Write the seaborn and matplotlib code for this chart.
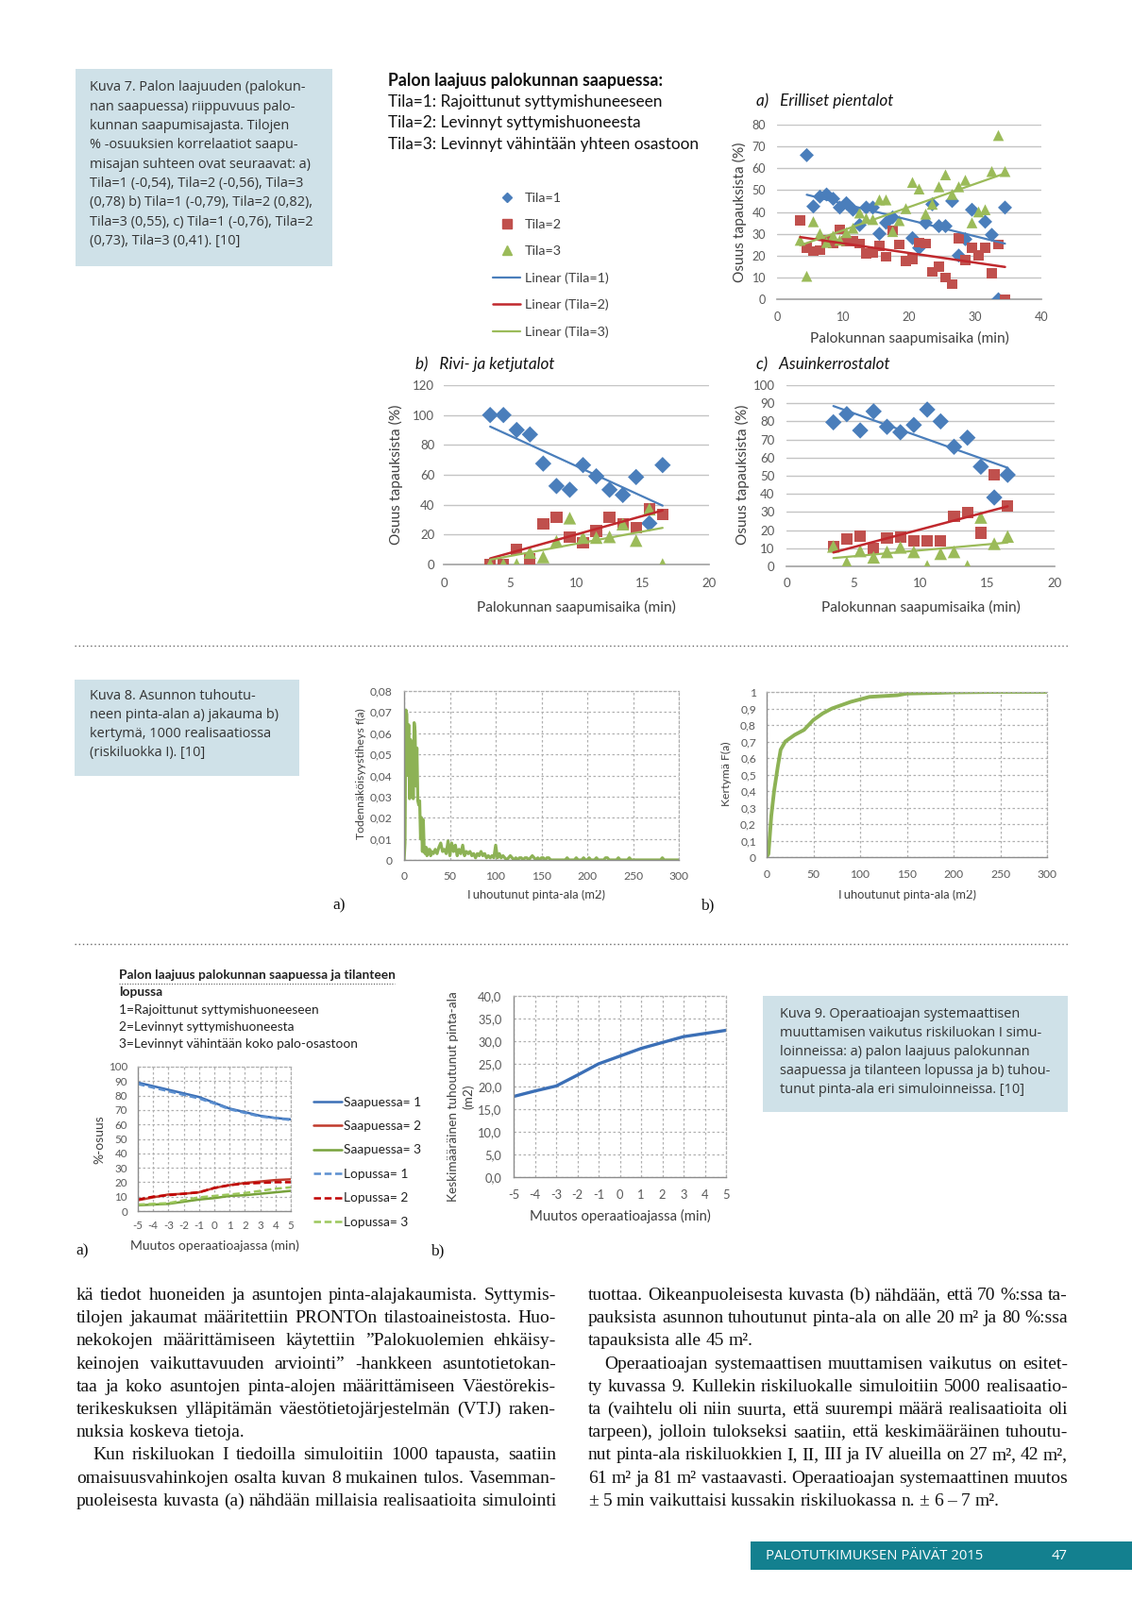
import numpy as np
import pandas as pd
import matplotlib
matplotlib.use("Agg")
import matplotlib.pyplot as plt
import seaborn as sns
from matplotlib.lines import Line2D
from matplotlib.patches import Rectangle
from matplotlib.ticker import FuncFormatter, MultipleLocator

# ---------------- DATA ----------------
# Kuva 7 a) Erilliset pientalot
time_a = [3.5, 4.5, 5.5, 6.5, 7.5, 8.5, 9.5, 10.5, 11.5, 12.5, 13.5, 14.5, 15.5, 16.5, 17.5, 18.5,
          19.5, 20.5, 21.5, 22.5, 23.5, 24.5, 25.5, 26.5, 27.5, 28.5, 29.5, 30.5, 31.5, 32.5, 33.5, 34.5]
tila1_a = [np.nan, 66, 42.5, 47, 48, 46, 42, 44, 41, 34, 42, 42, 30, 35, 37.5, np.nan,
           np.nan, 28, 23.5, 35, 43.5, 33.5, 33.5, 45, 20, 27.5, 41, np.nan, 35.5, 29.5, 0, 42]
tila2_a = [36, 23.5, 22, 22.5, 27, 25.5, 32, 26.5, 26.5, 25.5, 21, 21.5, 24.5, 19.5, 31.5, 25,
           17.5, 18.5, 26, 25.5, 12.5, 15, 10, 7, 28, 18, 23.5, 20, 23.5, 12, 25, 0]
tila3_a = [27, 10.5, 35.5, 30, 26, 29, 27, 30.5, 32.5, 39.5, 37, 36.5, 45.5, 45.5, 31, 36,
           41.5, 53.5, 50.5, 39, 43.5, 51.5, 57, 48, 51.5, 54.5, 35, 40, 41, 58.5, 75, 58.5]

# Kuva 7 b) Rivi- ja ketjutalot, c) Asuinkerrostalot
time_bc = [3.5, 4.5, 5.5, 6.5, 7.5, 8.5, 9.5, 10.5, 11.5, 12.5, 13.5, 14.5, 15.5, 16.5]
tila1_b = [100, 100, 90, 87, 67.5, 52.5, 50, 66.5, 59, 50, 46.5, 58.5, 27.5, 66.5]
tila2_b = [0, 0, 10, 4, 27, 31.5, 18.5, 14.5, 22.5, 31.5, 27, 24.5, 37, 33.5]
tila3_b = [0, 0, 0, 8, 5, 15.5, 31, 18, 18, 18.5, 27, 16, 37, 0]
tila1_c = [79.5, 84, 75, 85.5, 77, 74, 78, 86.5, 80, 66, 71, 55, 38, 50.5]
tila2_c = [11, 15, 16.5, 10, 15.5, 16, 14, 14, 14, 27.5, 29.5, 18.5, 50.5, 33.5]
tila3_c = [11, 2, 8.5, 5, 8, 10.5, 8, 0, 7, 8, 0, 27, 12.5, 16.5]

# Kuva 8 a) density
dens_x = list(range(0, 31)) + list(range(32, 301, 2))
dens_y = [0, 0.008, 0.071, 0.069, 0.040, 0.064, 0.029, 0.057, 0.030, 0.056, 0.029,
          0.065, 0.061, 0.035, 0.053, 0.028, 0.026, 0.028, 0.010, 0.020, 0.004,
          0.019, 0.004, 0.003, 0.006, 0.002, 0.005, 0.003, 0.005, 0.002, 0.004,
          # 32..100 step 2
          0.003, 0.005, 0.003, 0.006, 0.008, 0.004, 0.005, 0.003, 0.009, 0.002,
          0.008, 0.004, 0.007, 0.002, 0.005, 0.003, 0.007, 0.002, 0.004, 0.003,
          0.004, 0.002, 0.003, 0.001, 0.003, 0.002, 0.004, 0.002, 0.003, 0.001,
          0.002, 0.001, 0.002, 0.001, 0.007,
          # 102..300 step 2
          0.001, 0.003, 0.001, 0.002, 0.001, 0.000, 0.001, 0.002, 0.001, 0.000,
          0.001, 0.000, 0.001, 0.001, 0.000, 0.001, 0.001, 0.000, 0.001, 0.002,
          0.001, 0.000, 0.001, 0.000, 0.001, 0.001, 0.000, 0.001, 0.001, 0.000,
          0.000, 0.000, 0.000, 0.000, 0.000, 0.000, 0.000, 0.000, 0.001, 0.000,
          0.000, 0.000, 0.000, 0.001, 0.000, 0.000, 0.000, 0.001, 0.000, 0.000,
          0.001, 0.000, 0.000, 0.000, 0.001, 0.000, 0.000, 0.000, 0.000, 0.001,
          0.001, 0.000, 0.000, 0.000, 0.000, 0.000, 0.001, 0.000, 0.000, 0.000,
          0.000, 0.000, 0.001, 0.000, 0.000, 0.000, 0.000, 0.000, 0.000, 0.000,
          0.000, 0.000, 0.000, 0.000, 0.000, 0.000, 0.000, 0.000, 0.000, 0.000,
          0.001, 0.000, 0.000, 0.000, 0.000, 0.000, 0.000, 0.000, 0.000, 0.000]

# Kuva 8 b) cumulative
cum_x = [0, 2, 5, 8, 12, 15, 20, 25, 30, 40, 50, 60, 70, 80, 90, 100, 110, 125, 140, 150, 175, 200, 250, 300]
cum_y = [0, 0.02, 0.25, 0.40, 0.55, 0.65, 0.70, 0.72, 0.74, 0.77, 0.83, 0.87, 0.90, 0.92, 0.94,
         0.955, 0.97, 0.975, 0.98, 0.99, 0.993, 0.997, 1.0, 1.0]

# Kuva 9
muutos = [-5, -4, -3, -2, -1, 0, 1, 2, 3, 4, 5]
saap1 = [89, 86.5, 84, 81.5, 79, 75, 71, 68.5, 66, 64.5, 63.5]
saap2 = [7.5, 9.5, 11.5, 12, 13, 16, 18, 19.5, 20.5, 21.5, 22]
saap3 = [4, 4.5, 5, 6.5, 8, 9, 10.5, 11, 12, 13, 14]
lop1 = [88, 85.5, 83, 80.5, 78, 74.5, 70.5, 68, 65.5, 64.5, 63]
lop2 = [8, 10, 11, 12, 13, 16, 18, 19, 19.5, 20, 20]
lop3 = [4.5, 5, 5.5, 7.5, 9.5, 10.5, 11.5, 12.5, 14, 15.5, 16.5]
ala_keski = [17.8, 19.0, 20.1, 22.5, 25.0, 26.7, 28.4, 29.7, 31.0, 31.7, 32.4]

# ---------------- SETUP ----------------
sns.set_theme(style="white")
plt.rcParams['font.family'] = ['Lato', 'DejaVu Sans']
plt.rcParams['axes.unicode_minus'] = False

W, H = 1199, 1695
fig = plt.figure(figsize=(W / 100, H / 100), dpi=100)
fig.patch.set_facecolor('white')

BLUE, RED, GREEN = '#4a7ebb', '#c0504d', '#9bbb59'
RED_T = '#c0282d'
TXT = '#404040'
TICK = '#595959'
SANS = ['Lato', 'DejaVu Sans']
BOX_FONT = ['Open Sans', 'DejaVu Sans']
SERIF = ['Liberation Serif', 'DejaVu Serif']
BOX_FS = 10.45


def add_ax(x0, y0, x1, y1):
    return fig.add_axes([x0 / W, 1 - y1 / H, (x1 - x0) / W, (y1 - y0) / H])


def ftext(x, y, s, **kw):
    return fig.text(x / W, 1 - y / H, s, **kw)


def label_at(ax, box, xl, yl, xpos, ypos, fs, **kw):
    x0, y0, x1, y1 = box
    if xl is not None:
        ax.set_xlabel(xl, fontsize=fs, color=TXT, va='center', **kw)
        ax.xaxis.set_label_coords((xpos[0] - x0) / (x1 - x0), (y1 - xpos[1]) / (y1 - y0))
    if yl is not None:
        ax.set_ylabel(yl, fontsize=fs, color=TXT, va='center', ha='center', **kw)
        ax.yaxis.set_label_coords((ypos[0] - x0) / (x1 - x0), (y1 - ypos[1]) / (y1 - y0))


def comma(dec):
    def f(v, p):
        if abs(v) < 1e-9:
            return "0" if dec is None else f"{0:.{dec}f}".replace('.', ',')
        if dec is None:
            s = f"{v:.2f}".rstrip('0').rstrip('.')
            return s.replace('.', ',')
        return f"{v:.{dec}f}".replace('.', ',')
    return FuncFormatter(f)


def scatter_chart(box, x, s1, s2, s3, xlim, ylim, ystep, xstep, msz, xpad, ypad, tfs):
    ax = add_ax(*box)
    sns.scatterplot(x=x, y=s1, marker='D', color=BLUE, s=msz, edgecolor='none', ax=ax, zorder=3)
    sns.scatterplot(x=x, y=s2, marker='s', color=RED, s=msz, edgecolor='none', ax=ax, zorder=3)
    sns.scatterplot(x=x, y=s3, marker='^', color=GREEN, s=msz * 1.2, edgecolor='none', ax=ax, zorder=3)
    sns.regplot(x=x, y=s1, scatter=False, ci=None, ax=ax, line_kws=dict(color=BLUE, lw=1.6, zorder=4))
    sns.regplot(x=x, y=s2, scatter=False, ci=None, ax=ax, line_kws=dict(color=RED_T, lw=1.8, zorder=4))
    sns.regplot(x=x, y=s3, scatter=False, ci=None, ax=ax, line_kws=dict(color=GREEN, lw=1.6, zorder=4))
    ax.set_xlim(*xlim)
    ax.set_ylim(*ylim)
    ax.xaxis.set_major_locator(MultipleLocator(xstep))
    ax.yaxis.set_major_locator(MultipleLocator(ystep))
    ax.yaxis.grid(True, color='#c4c4c4', lw=1)
    ax.set_axisbelow(True)
    for s in ['top', 'right', 'left']:
        ax.spines[s].set_visible(False)
    ax.spines['bottom'].set_color('#a6a6a6')
    ax.tick_params(axis='x', length=0, labelsize=tfs, labelcolor=TICK, pad=xpad)
    ax.tick_params(axis='y', length=0, labelsize=tfs, labelcolor=TICK, pad=ypad)
    ax.set_facecolor('white')
    ax.set_xlabel('')
    ax.set_ylabel('')
    return ax


def dotted_grid(ax):
    ax.grid(True, color='#b0b0b0', lw=0.9, ls=(0, (2, 2)))
    ax.set_axisbelow(True)
    for s in ['top', 'right']:
        ax.spines[s].set_visible(True)
        ax.spines[s].set_color('#b0b0b0')
        ax.spines[s].set_linestyle((0, (2, 2)))
        ax.spines[s].set_linewidth(0.9)
    for s in ['left', 'bottom']:
        ax.spines[s].set_visible(True)
        ax.spines[s].set_color('#8c8c8c')
        ax.spines[s].set_linewidth(1.0)


# ---------------- KUVA 7 ----------------
fig.patches.append(Rectangle((80 / W, 1 - 282 / H), (352 - 80) / W, (282 - 73) / H,
                             transform=fig.transFigure, facecolor='#cfe1e8', edgecolor='none', zorder=0))
box7 = ["Kuva 7. Palon laajuuden (palokun-",
        "nan saapuessa) riippuvuus palo-",
        "kunnan saapumisajasta. Tilojen",
        "% -osuuksien korrelaatiot saapu-",
        "misajan suhteen ovat seuraavat: a)",
        "Tila=1 (-0,54), Tila=2 (-0,56), Tila=3",
        "(0,78) b) Tila=1 (-0,79), Tila=2 (0,82),",
        "Tila=3 (0,55), c) Tila=1 (-0,76), Tila=2",
        "(0,73), Tila=3 (0,41). [10]"]
for i, line in enumerate(box7):
    ftext(95, 93 + i * 20.3, line, fontsize=BOX_FS, family=BOX_FONT, color='#333333', va='center')

ftext(411, 85, "Palon laajuus palokunnan saapuessa:", fontsize=12.8, family=SANS,
      weight='bold', color='#111111', va='center')
for i, line in enumerate(["Tila=1: Rajoittunut syttymishuneeseen",
                          "Tila=2: Levinnyt syttymishuoneesta",
                          "Tila=3: Levinnyt vähintään yhteen osastoon"]):
    ftext(411, 107.7 + i * 22.6, line, fontsize=12.4, family=SANS, color='#111111', va='center')

handles = [Line2D([], [], marker='D', color=BLUE, ls='none', markersize=5.5),
           Line2D([], [], marker='s', color=RED, ls='none', markersize=6.5),
           Line2D([], [], marker='^', color=GREEN, ls='none', markersize=7),
           Line2D([], [], color=BLUE, lw=1.6),
           Line2D([], [], color=RED_T, lw=1.8),
           Line2D([], [], color=GREEN, lw=1.6)]
labels = ["Tila=1", "Tila=2", "Tila=3", "Linear (Tila=1)", "Linear (Tila=2)", "Linear (Tila=3)"]
leg = fig.legend(handles, labels, loc='upper left', bbox_to_anchor=(522 / W, 1 - 204 / H),
                 frameon=False, fontsize=10.3, handlelength=2.05, handletextpad=0.3,
                 labelspacing=1.12, borderpad=0, borderaxespad=0)
for t in leg.get_texts():
    t.set_color(TXT)

box_a = (823, 132, 1103, 317)
ax_a = scatter_chart(box_a, time_a, tila1_a, tila2_a, tila3_a, (0, 40), (0, 80), 10, 10, 58, 9, 8.5, 9)
label_at(ax_a, box_a, "Palokunnan saapumisaika (min)", "Osuus tapauksista (%)",
         (963, 358), (783, 225), 11.2)
ftext(801, 107, "a)   Erilliset pientalot", fontsize=12.3, style='italic', family=SANS,
      color='#111111', va='center')

box_b = (470, 408, 751, 598)
ax_b = scatter_chart(box_b, time_bc, tila1_b, tila2_b, tila3_b, (0, 20), (0, 120), 20, 5, 78, 10, 7, 9.5)
label_at(ax_b, box_b, "Palokunnan saapumisaika (min)", "Osuus tapauksista (%)",
         (610, 643), (419, 503), 11.2)
ftext(440, 386, "b)   Rivi- ja ketjutalot", fontsize=12.3, style='italic', family=SANS,
      color='#111111', va='center')

box_c = (833, 408, 1117, 600)
ax_c = scatter_chart(box_c, time_bc, tila1_c, tila2_c, tila3_c, (0, 20), (0, 100), 10, 5, 78, 8.5, 9, 9.5)
label_at(ax_c, box_c, "Palokunnan saapumisaika (min)", "Osuus tapauksista (%)",
         (975, 643), (786, 503), 11.2)
ftext(801, 386, "c)   Asuinkerrostalot", fontsize=12.3, style='italic', family=SANS,
      color='#111111', va='center')

for ysep in (684, 1000):
    fig.lines.append(Line2D([79 / W, 1131 / W], [1 - ysep / H, 1 - ysep / H], transform=fig.transFigure,
                            color='#666666', lw=1.0, ls=(0, (1, 2))))

# ---------------- KUVA 8 ----------------
fig.patches.append(Rectangle((79 / W, 1 - 822 / H), (317 - 79) / W, (822 - 720) / H,
                             transform=fig.transFigure, facecolor='#cfe1e8', edgecolor='none', zorder=0))
box8 = ["Kuva 8. Asunnon tuhoutu-",
        "neen pinta-alan a) jakauma b)",
        "kertymä, 1000 realisaatiossa",
        "(riskiluokka I). [10]"]
for i, line in enumerate(box8):
    ftext(95, 738 + i * 19.8, line, fontsize=BOX_FS, family=BOX_FONT, color='#333333', va='center')

GREEN8 = '#8db255'
box_8a = (428, 732, 719, 911)
ax8a = add_ax(*box_8a)
sns.lineplot(x=dens_x, y=dens_y, color=GREEN8, lw=2.3, ax=ax8a)
ax8a.set_xlim(0, 300)
ax8a.set_ylim(0, 0.08)
ax8a.xaxis.set_major_locator(MultipleLocator(50))
ax8a.yaxis.set_major_locator(MultipleLocator(0.01))
ax8a.yaxis.set_major_formatter(comma(None))
dotted_grid(ax8a)
ax8a.tick_params(axis='x', length=0, labelsize=8.7, labelcolor=TICK, pad=9)
ax8a.tick_params(axis='y', length=0, labelsize=8.7, labelcolor=TICK, pad=9)
label_at(ax8a, box_8a, "Tuhoutunut pinta-ala (m2)", "Todennäköisyystiheys f(a)",
         (567, 947.5), (382, 820), 8.8)
ax8a.xaxis.label.set_fontsize(9.3)

box_8b = (812, 733, 1109, 908)
ax8b = add_ax(*box_8b)
sns.lineplot(x=cum_x, y=cum_y, color=GREEN8, lw=2.8, ax=ax8b)
ax8b.set_xlim(0, 300)
ax8b.set_ylim(0, 1)
ax8b.xaxis.set_major_locator(MultipleLocator(50))
ax8b.yaxis.set_major_locator(MultipleLocator(0.1))
ax8b.yaxis.set_major_formatter(comma(None))
dotted_grid(ax8b)
ax8b.tick_params(axis='x', length=0, labelsize=8.7, labelcolor=TICK, pad=9)
ax8b.tick_params(axis='y', length=0, labelsize=8.7, labelcolor=TICK, pad=8)
label_at(ax8b, box_8b, "Tuhoutunut pinta-ala (m2)", "Kertymä F(a)",
         (960, 947.5), (769, 820), 8.8)
ax8b.xaxis.label.set_fontsize(9.3)

# the scanned page cuts off the top of these two axis titles
for (xa, xb) in ((470, 665), (860, 1060)):
    fig.patches.append(Rectangle((xa / W, 1 - 943.3 / H), (xb - xa) / W, 8 / H,
                                 transform=fig.transFigure, facecolor='white', edgecolor='none', zorder=5))

ftext(352, 959, "a)", fontsize=12.5, family=SERIF, color='#111111', va='center')
ftext(742, 959, "b)", fontsize=12.5, family=SERIF, color='#111111', va='center')

# ---------------- KUVA 9 ----------------
fig.patches.append(Rectangle((808 / W, 1 - 1178 / H), (1131 - 808) / W, (1178 - 1055) / H,
                             transform=fig.transFigure, facecolor='#cfe1e8', edgecolor='none', zorder=0))
box9 = ["Kuva 9. Operaatioajan systemaattisen",
        "muuttamisen vaikutus riskiluokan I simu-",
        "loinneissa: a) palon laajuus palokunnan",
        "saapuessa ja tilanteen lopussa ja b) tuhou-",
        "tunut pinta-ala eri simuloinneissa. [10]"]
for i, line in enumerate(box9):
    ftext(826, 1074 + i * 20.2, line, fontsize=BOX_FS, family=BOX_FONT, color='#333333', va='center')

ftext(126, 1033, "Palon laajuus palokunnan saapuessa ja tilanteen", fontsize=9.9, family=SANS,
      weight='bold', color='#222222', va='center')
fig.lines.append(Line2D([126 / W, 418 / W], [1 - 1042 / H, 1 - 1042 / H], transform=fig.transFigure,
                        color='#555555', lw=0.8, ls=(0, (1, 1.5))))
ftext(126, 1051, "lopussa", fontsize=9.9, family=SANS, weight='bold', color='#222222', va='center')
for i, line in enumerate(["1=Rajoittunut syttymishuoneeseen",
                          "2=Levinnyt syttymishuoneesta",
                          "3=Levinnyt vähintään koko palo-osastoon"]):
    ftext(126, 1069.5 + i * 18, line, fontsize=9.9, family=SANS, color='#222222', va='center')

B9, R9, G9 = '#3b6fb6', '#c0392b', '#77a23b'
B9d, R9d, G9d = '#5b8fd0', '#c00000', '#9cc75c'
box_9a = (146, 1130, 308, 1283)
ax9a = add_ax(*box_9a)
sns.lineplot(x=muutos, y=saap1, color=B9, lw=1.8, ax=ax9a)
sns.lineplot(x=muutos, y=saap2, color=R9, lw=1.8, ax=ax9a)
sns.lineplot(x=muutos, y=saap3, color=G9, lw=1.8, ax=ax9a)
sns.lineplot(x=muutos, y=lop1, color=B9d, lw=1.8, ls=(0, (3, 1.5)), ax=ax9a)
sns.lineplot(x=muutos, y=lop2, color=R9d, lw=1.8, ls=(0, (3, 1.5)), ax=ax9a)
sns.lineplot(x=muutos, y=lop3, color=G9d, lw=1.8, ls=(0, (3, 1.5)), ax=ax9a)
ax9a.set_xlim(-5, 5)
ax9a.set_ylim(0, 100)
ax9a.xaxis.set_major_locator(MultipleLocator(1))
ax9a.yaxis.set_major_locator(MultipleLocator(10))
dotted_grid(ax9a)
ax9a.tick_params(axis='x', length=0, labelsize=8.3, labelcolor=TICK, pad=7)
ax9a.tick_params(axis='y', length=0, labelsize=8.3, labelcolor=TICK, pad=8)
label_at(ax9a, box_9a, "Muutos operaatioajassa (min)", "%-osuus", (227, 1320), (105, 1207), 10)

h9 = [Line2D([], [], color=B9, lw=1.8), Line2D([], [], color=R9, lw=1.8), Line2D([], [], color=G9, lw=1.8),
      Line2D([], [], color=B9d, lw=1.8, ls=(0, (3, 1.5))), Line2D([], [], color=R9d, lw=1.8, ls=(0, (3, 1.5))),
      Line2D([], [], color=G9d, lw=1.8, ls=(0, (3, 1.5)))]
l9 = ["Saapuessa= 1", "Saapuessa= 2", "Saapuessa= 3", "Lopussa= 1", "Lopussa= 2", "Lopussa= 3"]
leg9 = fig.legend(h9, l9, loc='upper left', bbox_to_anchor=(332 / W, 1 - 1161.5 / H), frameon=False,
                  fontsize=9.9, handlelength=2.15, handletextpad=0.2, labelspacing=0.98,
                  borderpad=0, borderaxespad=0)
for t in leg9.get_texts():
    t.set_color('#222222')

box_9b = (544, 1055, 769, 1247)
ax9b = add_ax(*box_9b)
sns.lineplot(x=muutos, y=ala_keski, color=B9, lw=2.4, ax=ax9b)
ax9b.set_xlim(-5, 5)
ax9b.set_ylim(0, 40)
ax9b.xaxis.set_major_locator(MultipleLocator(1))
ax9b.yaxis.set_major_locator(MultipleLocator(5))
ax9b.yaxis.set_major_formatter(comma(1))
dotted_grid(ax9b)
ax9b.tick_params(axis='x', length=0, labelsize=9.3, labelcolor=TICK, pad=9)
ax9b.tick_params(axis='y', length=0, labelsize=9.3, labelcolor=TICK, pad=9)
label_at(ax9b, box_9b, "Muutos operaatioajassa (min)", "Keskimääräinen tuhoutunut pinta-ala\n(m2)",
         (657, 1288), (488, 1162), 10.7)
ax9b.yaxis.label.set_fontsize(9.8)
ax9b.yaxis.label.set_linespacing(1.35)

ftext(80, 1325, "a)", fontsize=12.5, family=SERIF, color='#111111', va='center')
ftext(456, 1325, "b)", fontsize=12.5, family=SERIF, color='#111111', va='center')

# ---------------- BODY TEXT ----------------
left_lines = [
    ("kä tiedot huoneiden ja asuntojen pinta-alajakaumista. Syttymis-", True, 0),
    ("tilojen jakaumat määritettiin PRONTOn tilastoaineistosta. Huo-", True, 0),
    ("nekokojen määrittämiseen käytettiin ”Palokuolemien ehkäisy-", True, 0),
    ("keinojen vaikuttavuuden arviointi” -hankkeen asuntotietokan-", True, 0),
    ("taa ja koko asuntojen pinta-alojen määrittämiseen Väestörekis-", True, 0),
    ("terikeskuksen ylläpitämän väestötietojärjestelmän (VTJ) raken-", True, 0),
    ("nuksia koskeva tietoja.", False, 0),
    ("Kun riskiluokan I tiedoilla simuloitiin 1000 tapausta, saatiin", True, 17),
    ("omaisuusvahinkojen osalta kuvan 8 mukainen tulos. Vasemman-", True, 0),
    ("puoleisesta kuvasta (a) nähdään millaisia realisaatioita simulointi", True, 0),
]
right_lines = [
    ("tuottaa. Oikeanpuoleisesta kuvasta (b) nähdään, että 70 %:ssa ta-", True, 0),
    ("pauksista asunnon tuhoutunut pinta-ala on alle 20 m² ja 80 %:ssa", True, 0),
    ("tapauksista alle 45 m².", False, 0),
    ("Operaatioajan systemaattisen muuttamisen vaikutus on esitet-", True, 17),
    ("ty kuvassa 9. Kullekin riskiluokalle simuloitiin 5000 realisaatio-", True, 0),
    ("ta (vaihtelu oli niin suurta, että suurempi määrä realisaatioita oli", True, 0),
    ("tarpeen), jolloin tulokseksi saatiin, että keskimääräinen tuhoutu-", True, 0),
    ("nut pinta-ala riskiluokkien I, II, III ja IV alueilla on 27 m², 42 m²,", True, 0),
    ("61 m² ja 81 m² vastaavasti. Operaatioajan systemaattinen muutos", True, 0),
    ("± 5 min vaikuttaisi kussakin riskiluokassa n. ± 6 – 7 m².", False, 0),
]

renderer = fig.canvas.get_renderer()
probe = fig.text(0, 0, "", family=SERIF)


def widths(words, fs):
    probe.set_fontsize(fs)
    out = []
    for w in words:
        probe.set_text(w)
        out.append(probe.get_window_extent(renderer=renderer).width)
    return out


columns = [(81, 589, left_lines), (623, 1131, right_lines)]
fs = 14.0
while fs > 9:
    ok = True
    for (x0, x1, lines) in columns:
        for (txt, just, ind) in lines:
            words = txt.split(' ')
            if just and len(words) > 1:
                wsum = sum(widths(words, fs))
                gap = (x1 - x0 - ind - wsum) / (len(words) - 1)
                if gap < 0.17 * fs * 100 / 72:
                    ok = False
                    break
        if not ok:
            break
    if ok:
        break
    fs -= 0.25

base0, step = 1377, 24.2
placements = []
for (x0, x1, lines) in columns:
    for i, (txt, just, ind) in enumerate(lines):
        words = txt.split(' ')
        ws = widths(words, fs)
        if just and len(words) > 1:
            gap = (x1 - x0 - ind - sum(ws)) / (len(words) - 1)
        else:
            gap = 0.24 * fs * 100 / 72
        x = x0 + ind
        y = base0 + i * step
        for w, wd in zip(words, ws):
            placements.append((x, y, w))
            x += wd + gap
probe.remove()
for (x, y, w) in placements:
    ftext(x, y, w, fontsize=fs, family=SERIF, color='#111111', va='baseline')

# ---------------- FOOTER ----------------
fig.patches.append(Rectangle((795 / W, 1 - 1663 / H), (W - 795) / W, 30 / H,
                             transform=fig.transFigure, facecolor='#13808f', edgecolor='none', zorder=0))
ftext(811, 1648.5, "PALOTUTKIMUKSEN PÄIVÄT 2015", fontsize=10.7, family=BOX_FONT, color='white', va='center')
ftext(1122, 1648.5, "47", fontsize=10.7, family=BOX_FONT, color='white', va='center', ha='center')

fig.savefig("out.png", dpi=100, facecolor='white')
